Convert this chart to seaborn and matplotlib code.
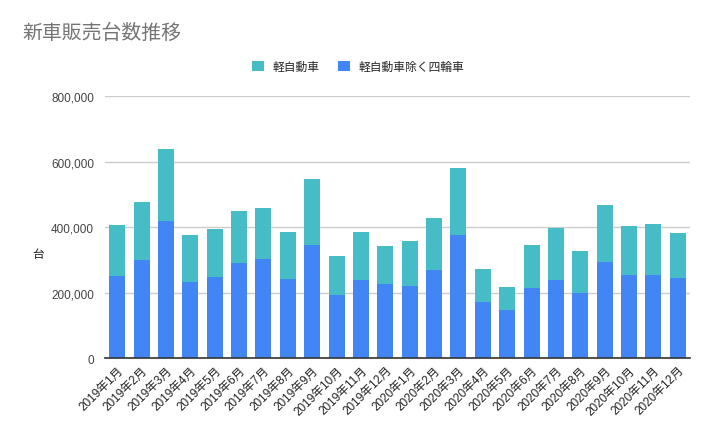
import matplotlib
matplotlib.use("Agg")
import matplotlib.pyplot as plt
import matplotlib.ticker as mticker
from matplotlib.patches import Patch
import seaborn as sns
import pandas as pd

months = [f"2019年{m}月" for m in range(1, 13)] + [f"2020年{m}月" for m in range(1, 13)]
kei = [157000, 179000, 221000, 145000, 148000, 160000, 157000, 145000, 200000, 121000, 148000, 117000,
       139000, 161000, 206000, 100000, 70000, 133000, 158000, 128000, 176000, 152000, 158000, 137000]
non_kei = [250000, 299000, 418000, 232000, 247000, 290000, 302000, 241000, 347000, 192000, 238000, 226000,
           220000, 268000, 375000, 171000, 147000, 214000, 238000, 198000, 293000, 253000, 253000, 244000]
series_names = ["軽自動車", "軽自動車除く四輪車"]
y_title = "台"

df = pd.DataFrame({"month": months, "kei": kei, "non_kei": non_kei})
df["total"] = df["kei"] + df["non_kei"]

sns.set_theme(style="white")
plt.rcParams["font.family"] = ["Liberation Sans", "Noto Sans CJK JP", "DejaVu Sans"]

TEAL = "#46BDC6"
BLUE = "#4285F4"

fig = plt.figure(figsize=(7.11, 4.39), dpi=100)
ax = fig.add_axes([105 / 711, 1 - 359.3 / 439, 585 / 711, (359.3 - 97) / 439])

sns.barplot(data=df, x="month", y="total", color=TEAL, saturation=1, width=0.66,
            linewidth=0, edgecolor="none", ax=ax)
sns.barplot(data=df, x="month", y="non_kei", color=BLUE, saturation=1, width=0.66,
            linewidth=0, edgecolor="none", ax=ax)

ax.set_ylim(0, 800000)
ax.set_xlim(-0.5, len(months) - 0.5)
ax.set_yticks([0, 200000, 400000, 600000, 800000])
ax.yaxis.set_major_formatter(mticker.FuncFormatter(lambda v, p: f"{int(v):,}"))
ax.grid(axis="y", color="#cccccc", linewidth=1)
ax.set_axisbelow(True)
for s in ["top", "right", "left"]:
    ax.spines[s].set_visible(False)
ax.spines["bottom"].set_color("#333333")
ax.spines["bottom"].set_linewidth(1.2)
ax.tick_params(axis="y", length=0, labelsize=8.5, colors="#444444", pad=8)
ax.tick_params(axis="x", length=0, labelsize=8.5, colors="#222222", pad=4)
ax.set_xticks(range(len(months)))
ax.set_xticklabels(months, rotation=45, ha="right", rotation_mode="anchor")
ax.set_xlabel("")
ax.set_ylabel("")

fig.text(38 / 711, 1 - 255 / 439, y_title, rotation=0, fontsize=8.5, color="#222222",
         va="center", ha="center", family=["Noto Sans CJK JP", "DejaVu Sans"])

fig.text(22 / 711, 1 - 33 / 439, "新車販売台数推移", fontsize=14.3, color="#757575",
         family=["Noto Sans CJK JP", "DejaVu Sans"], va="center", ha="left")

handles = [Patch(facecolor=TEAL, edgecolor="none"), Patch(facecolor=BLUE, edgecolor="none")]
fig.legend(handles, series_names, loc="center", bbox_to_anchor=(358 / 711, 1 - 68 / 439),
           ncol=2, frameon=False, fontsize=8.5, handlelength=1.0, handleheight=1.0,
           handletextpad=0.7, columnspacing=1.6)

fig.savefig("out.png", dpi=100)
